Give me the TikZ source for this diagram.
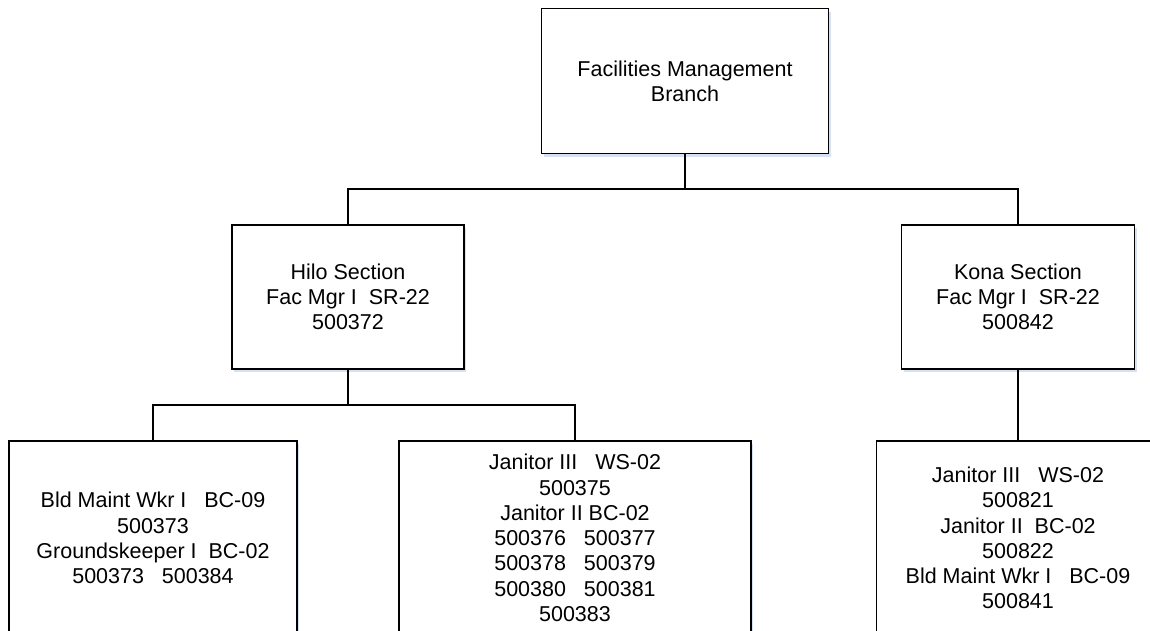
\documentclass[tikz,border=0pt]{standalone}
\usepackage{fontspec}
\setmainfont{Liberation Sans}
\usetikzlibrary{shadows}
\definecolor{cshadow}{RGB}{196,212,236}
\tikzset{orgbox/.style={draw,line width=1.6pt,fill=white,align=center,
    inner sep=0pt,font=\fontsize{21.5}{25.3}\selectfont,
    drop shadow={shadow xshift=2pt,shadow yshift=-3pt,fill=cshadow,opacity=0.7}},
  orgline/.style={line width=1.4pt}}

\begin{document}
\begin{tikzpicture}[x=1pt,y=-1pt]
    \useasboundingbox (0,0) rectangle (1150,630);
    \clip (0,0) rectangle (1150,630);
    \node[orgbox,minimum width=287pt,minimum height=145pt] (fmb) at (685,81)
      {Facilities Management\\Branch};
    \node[orgbox,minimum width=232pt,minimum height=144pt] (hilo) at (348,297)
      {Hilo Section\\Fac Mgr I\ \ SR-22\\500372};
    \node[orgbox,minimum width=233pt,minimum height=144pt] (kona) at (1018,297)
      {Kona Section\\Fac Mgr I\ \ SR-22\\500842};
    \node[orgbox,minimum width=288pt,minimum height=194pt] (bldg) at (153,538)
      {Bld Maint Wkr I\ \ \ BC-09\\500373\\Groundskeeper I\ \ BC-02\\500373\ \ \ 500384};
    \node[orgbox,minimum width=352pt,minimum height=194pt] (jan) at (575,538)
      {Janitor III\ \ \ WS-02\\500375\\Janitor II BC-02\\500376\ \ \ 500377\\500378\ \ \ 500379\\500380\ \ \ 500381\\500383};
    \node[orgbox,minimum width=283pt,minimum height=194pt] (konastaff) at (1018,538)
      {Janitor III\ \ \ WS-02\\500821\\Janitor II\ \ BC-02\\500822\\Bld Maint Wkr I\ \ \ BC-09\\500841};
    % connectors
    \coordinate (bus1) at (685,189);
    \coordinate (bus2) at (348,405);
    \draw[orgline] (fmb.south) -- (bus1);
    \draw[orgline] (hilo.north) |- (bus1) -| (kona.north);
    \draw[orgline] (hilo.south) -- (bus2);
    \draw[orgline] (bldg.north) |- (bus2) -| (jan.north);
    \draw[orgline] (kona.south) -- (konastaff.north);
  \end{tikzpicture}
\end{document}
